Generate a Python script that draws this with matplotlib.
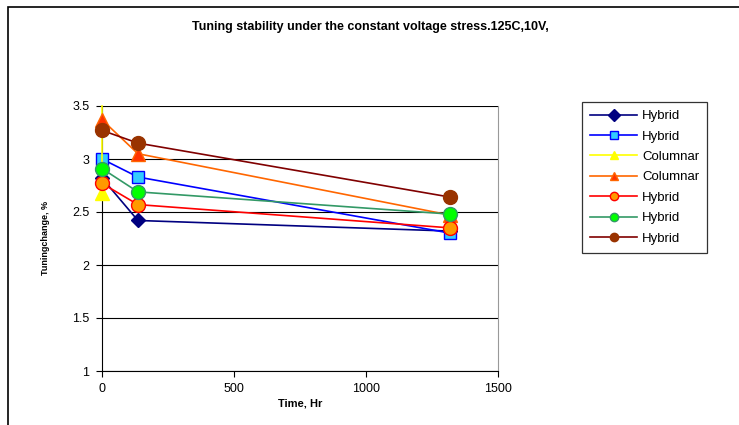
import matplotlib
matplotlib.use("Agg")
import matplotlib.pyplot as plt
from matplotlib.patches import Rectangle

plt.rcParams['font.family'] = ['Liberation Sans', 'DejaVu Sans']

title = "Tuning stability under the constant voltage stress.125C,10V,"
x_label = "Time, Hr"
y_label = "Tuningchange, %"

labels = ["Hybrid", "Hybrid", "Columnar", "Columnar", "Hybrid", "Hybrid", "Hybrid"]
times = [
    [0, 136, 1320],
    [0, 136, 1320],
    [0, 0],
    [0, 136, 1320],
    [0, 136, 1320],
    [0, 136, 1320],
    [0, 136, 1320],
]
values = [
    [2.82, 2.42, 2.32],
    [3.00, 2.83, 2.30],
    [2.68, 3.50],
    [3.37, 3.05, 2.47],
    [2.77, 2.57, 2.35],
    [2.91, 2.69, 2.48],
    [3.27, 3.15, 2.64],
]

line_colors = ["#000080", "#0000FF", "#FFFF00", "#FF6600", "#FF0000", "#339966", "#800000"]
face_colors = ["#000080", "#33CCFF", "#FFFF00", "#FF3300", "#FF9900", "#00FF00", "#993300"]
edge_colors = ["#000080", "#0000FF", "#FFFF00", "#FF6600", "#FF0000", "#339966", "#993300"]
markers = ["D", "s", "^", "^", "o", "o", "o"]
msizes = [7, 9, 9.5, 9.5, 10, 10, 10]
mark_every = [None, None, [0], None, None, None, None]

fig = plt.figure(figsize=(7.39, 4.25), dpi=100)
fig.patches.append(Rectangle((8 / 739, -0.1), 1.2, 1 - 7 / 425 + 0.1, transform=fig.transFigure,
                             fill=False, edgecolor="black", linewidth=1.2, zorder=-1))

ax = fig.add_axes([102 / 739, 1 - 371 / 425, 396 / 739, 265 / 425])
ax.set_facecolor("white")

for t, v, lc, fc, ec, m, ms, me, lab in zip(times, values, line_colors, face_colors, edge_colors,
                                            markers, msizes, mark_every, labels):
    ax.plot(t, v, color=lc, marker=m, markerfacecolor=fc, markeredgecolor=ec,
            markersize=ms, markevery=me, linewidth=1.2, label=lab, clip_on=False, zorder=3)

ax.set_xlim(0, 1500)
ax.set_ylim(1, 3.5)
ax.set_xticks([0, 500, 1000, 1500])
ax.set_yticks([1, 1.5, 2, 2.5, 3, 3.5])
ax.set_yticklabels(["1", "1.5", "2", "2.5", "3", "3.5"])
ax.yaxis.grid(True, color="black", linewidth=0.8)
ax.set_axisbelow(True)
ax.spines["top"].set_visible(False)
ax.spines["right"].set_color("#999999")
ax.spines["left"].set_color("black")
ax.spines["bottom"].set_color("black")
ax.tick_params(axis="both", labelsize=9, direction="out", length=4, color="black")
ax.tick_params(axis="x", pad=5)
ax.tick_params(axis="y", pad=5)

fig.text(370 / 739, 1 - 27 / 425, title, ha="center", va="center", fontsize=9, fontweight="bold")
fig.text(300 / 739, 1 - 403 / 425, x_label, ha="center", va="center", fontsize=8, fontweight="bold")
fig.text(46 / 739, 1 - 238 / 425, y_label, ha="center", va="center", rotation=90,
         fontsize=6.5, fontweight="bold")

leg = fig.legend(loc="upper left", bbox_to_anchor=(582 / 739, 1 - 102 / 425),
                 fontsize=9.5, frameon=True, fancybox=False, edgecolor="black",
                 handlelength=3.6, labelspacing=0.62, borderpad=0.6, handletextpad=0.35,
                 borderaxespad=0)
leg.get_frame().set_linewidth(0.9)
for h in leg.legend_handles:
    h.set_markersize(6)

fig.savefig("out.png", dpi=100)
